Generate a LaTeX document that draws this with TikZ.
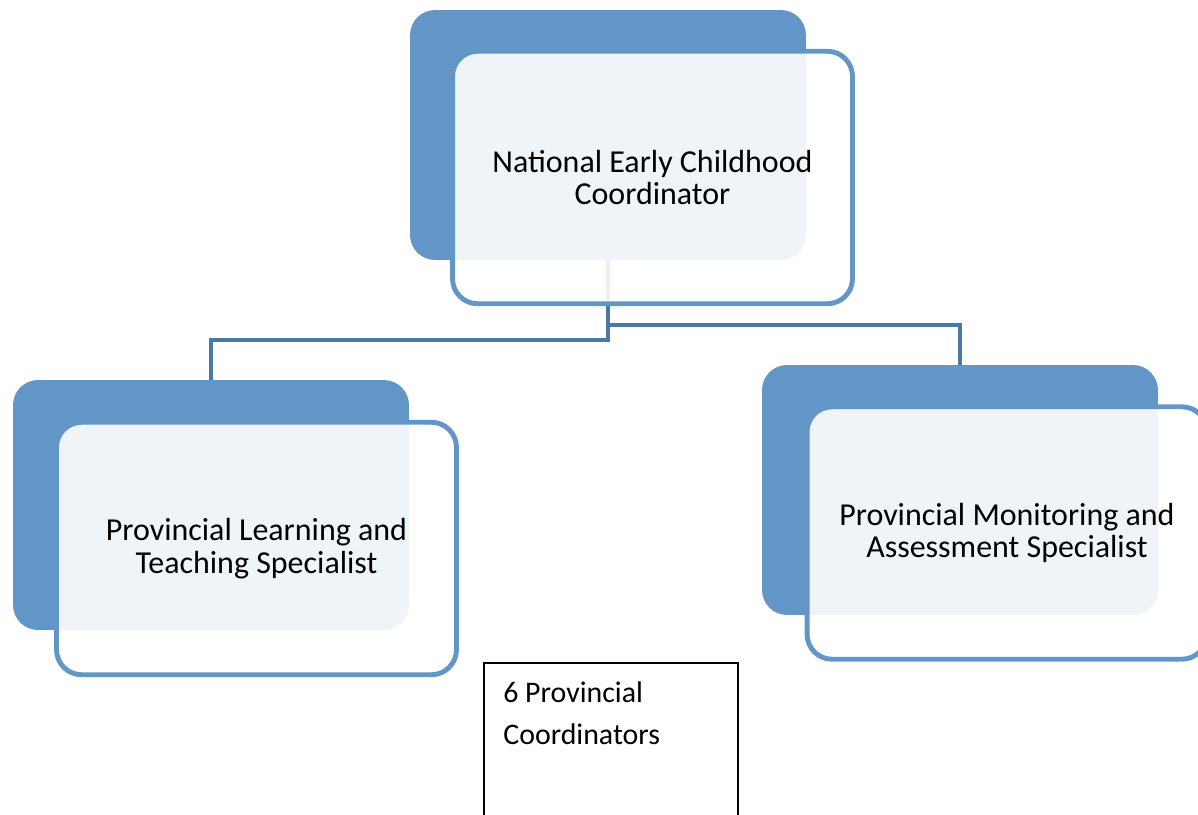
\documentclass[tikz,border=0pt]{standalone}
\usepackage{fontspec}
\setmainfont{Carlito}

\definecolor{unitblue}{RGB}{97,150,199}
\definecolor{linkblue}{RGB}{74,121,168}

\tikzset{
  backbox/.style={rectangle, rounded corners=0.5cm, fill=unitblue,
    minimum width=7.92cm, minimum height=5cm, inner sep=0pt},
  frontbox/.style={rectangle, rounded corners=0.5cm, draw=unitblue, line width=2.8pt,
    fill=white, fill opacity=0.9, text opacity=1, text=black,
    minimum width=8cm, minimum height=5.05cm, inner sep=0pt,
    align=center, font=\fontsize{18.2}{18.5}\selectfont},
  link/.style={draw=linkblue, line width=2.8pt},
  listbox/.style={draw=black, line width=1.1pt}
}

\begin{document}
\begin{tikzpicture}[x=0.02cm, y=-0.02cm]

    \useasboundingbox (0,0) rectangle (1198,815);

    % Solid blue backs
    \node[backbox] (natback) at (608,135) {};
    \node[backbox] (ltsback) at (211,505) {};
    \node[backbox] (masback) at (960,490) {};

    % Elbow connectors
    \coordinate (lbend) at (0,340);
    \coordinate (rbend) at (0,325);
    \draw[link] (natback.south) -- (natback.south |- lbend) -| (ltsback.north);
    \draw[link] (natback.south) -- (natback.south |- rbend) -| (masback.north);

    % Outlined fronts with the titles
    \node[frontbox] (nat) at (652.5,177.5) {National Early Childhood\\Coordinator};
    \node[frontbox] (lts) at (256.5,548.5) {Provincial Learning and\\Teaching Specialist};
    \node[frontbox] (mas) at (1007,533) {Provincial Monitoring and\\Assessment Specialist};

    % Coordinators box
    \draw[listbox] (484,663) rectangle (738,840);
    \node[anchor=north west, inner sep=0pt, align=left,
      font=\fontsize{17}{24}\selectfont] (pc) at (503,681) {6 Provincial\\Coordinators};

\end{tikzpicture}
\end{document}
